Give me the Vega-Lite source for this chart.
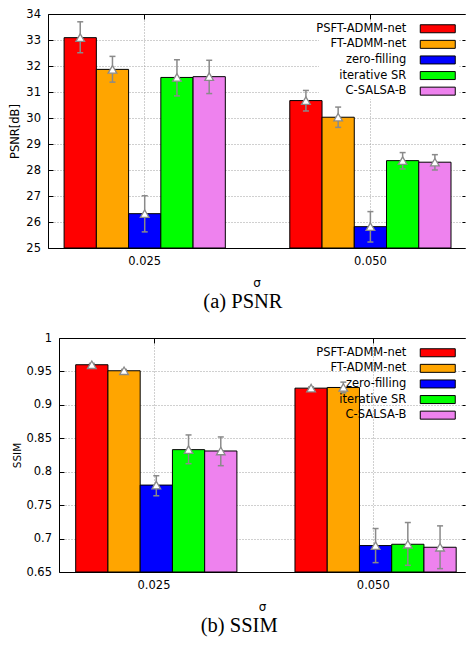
{
  "$schema": "https://vega.github.io/schema/vega-lite/v6.json",
  "padding": {"left": 9, "top": 8, "right": 0, "bottom": 0},
  "background": "white",
  "config": {
    "view": {"stroke": null},
    "font": "DejaVu Sans",
    "axis": {
      "labelFont": "DejaVu Sans", "labelFontSize": 11.5, "labelColor": "black",
      "titleFont": "DejaVu Sans", "titleFontWeight": "normal", "titleColor": "black",
      "domainColor": "black", "domainWidth": 1, "tickColor": "black", "tickWidth": 1,
      "gridColor": "#a0a0a0", "gridDash": [1, 2], "gridWidth": 1, "minExtent": 0
    },
    "legend": {
      "labelFont": "DejaVu Sans", "labelFontSize": 11.5, "labelColor": "black",
      "labelAlign": "right", "labelOffset": -37.2, "symbolOffset": 112,
      "symbolType": "M-3.5,-0.8H3.5V0.8H-3.5Z", "symbolSize": 100,
      "symbolStrokeColor": "black", "symbolStrokeWidth": 1, "symbolOpacity": 1,
      "rowPadding": 2.6, "padding": 1, "strokeColor": null
    }
  },
  "datasets": {
    "psnr": [
      {"sigma": "0.025", "method": "PSFT-ADMM-net", "value": 33.09, "lo": 32.51, "hi": 33.70},
      {"sigma": "0.025", "method": "FT-ADMM-net", "value": 31.87, "lo": 31.38, "hi": 32.37},
      {"sigma": "0.025", "method": "zero-filling", "value": 26.32, "lo": 25.62, "hi": 27.01},
      {"sigma": "0.025", "method": "iterative SR", "value": 31.56, "lo": 30.85, "hi": 32.24},
      {"sigma": "0.025", "method": "C-SALSA-B", "value": 31.59, "lo": 30.94, "hi": 32.22},
      {"sigma": "0.050", "method": "PSFT-ADMM-net", "value": 30.67, "lo": 30.27, "hi": 31.06},
      {"sigma": "0.050", "method": "FT-ADMM-net", "value": 30.03, "lo": 29.64, "hi": 30.42},
      {"sigma": "0.050", "method": "zero-filling", "value": 25.82, "lo": 25.23, "hi": 26.40},
      {"sigma": "0.050", "method": "iterative SR", "value": 28.36, "lo": 28.04, "hi": 28.67},
      {"sigma": "0.050", "method": "C-SALSA-B", "value": 28.30, "lo": 28.00, "hi": 28.59}
    ],
    "ssim": [
      {"sigma": "0.025", "method": "PSFT-ADMM-net", "value": 0.960, "lo": 0.958, "hi": 0.962},
      {"sigma": "0.025", "method": "FT-ADMM-net", "value": 0.951, "lo": 0.949, "hi": 0.953},
      {"sigma": "0.025", "method": "zero-filling", "value": 0.780, "lo": 0.764, "hi": 0.794},
      {"sigma": "0.025", "method": "iterative SR", "value": 0.833, "lo": 0.812, "hi": 0.855},
      {"sigma": "0.025", "method": "C-SALSA-B", "value": 0.831, "lo": 0.809, "hi": 0.852},
      {"sigma": "0.050", "method": "PSFT-ADMM-net", "value": 0.925, "lo": 0.923, "hi": 0.927},
      {"sigma": "0.050", "method": "FT-ADMM-net", "value": 0.926, "lo": 0.918, "hi": 0.934},
      {"sigma": "0.050", "method": "zero-filling", "value": 0.6895, "lo": 0.664, "hi": 0.715},
      {"sigma": "0.050", "method": "iterative SR", "value": 0.6915, "lo": 0.660, "hi": 0.724},
      {"sigma": "0.050", "method": "C-SALSA-B", "value": 0.687, "lo": 0.655, "hi": 0.719}
    ]
  },
  "columns": 1,
  "spacing": 19,
  "resolve": {"scale": {"color": "independent"}, "legend": {"color": "independent"}},
  "concat": [
    {
      "width": 406, "height": 234,
      "title": {"text": "(a) PSNR", "orient": "bottom", "anchor": "middle", "frame": "bounds", "font": "Liberation Serif", "fontSize": 20.5, "fontWeight": "normal", "color": "black", "offset": 4},
      "data": {"name": "psnr"},
      "encoding": {
        "x": {"field": "sigma", "type": "nominal", "scale": {"range": [-11, 406], "paddingInner": 0.2857, "paddingOuter": 0.0667, "align": 0.535}, "axis": null},
        "xOffset": {"field": "method", "type": "nominal", "sort": ["PSFT-ADMM-net", "FT-ADMM-net", "zero-filling", "iterative SR", "C-SALSA-B"], "scale": {"paddingInner": 0, "paddingOuter": 0}}
      },
      "layer": [
        {
          "mark": {"type": "bar", "stroke": "black", "strokeWidth": 1, "opacity": 1},
          "encoding": {
            "x": {"field": "sigma", "type": "nominal", "scale": {"range": [-11, 406], "paddingInner": 0.2857, "paddingOuter": 0.0667, "align": 0.535},
              "axis": {"orient": "bottom", "title": "σ", "titleFontSize": 12, "titlePadding": 10.5, "labelAngle": 0, "tickSize": -5, "labelPadding": 12, "grid": true, "bandPosition": 0.5}},
            "y": {"field": "value", "type": "quantitative", "scale": {"domain": [25, 34], "zero": false, "nice": false},
              "axis": {"orient": "left", "offset": 11, "title": "PSNR[dB]", "titleFontSize": 11.5, "titlePadding": 5, "values": [25, 26, 27, 28, 29, 30, 31, 32, 33, 34], "tickSize": -5, "labelPadding": 12.5, "grid": true}},
            "y2": {"datum": 25},
            "color": {"field": "method", "type": "nominal",
              "scale": {"domain": ["PSFT-ADMM-net", "FT-ADMM-net", "zero-filling", "iterative SR", "C-SALSA-B"], "range": ["#ff0000", "#ffa500", "#0000ff", "#00ff00", "#ee82ee"]},
              "legend": {"title": null, "orient": "none", "legendX": 260, "legendY": 8, "direction": "vertical", "fillColor": "white"}}
          }
        },
        {
          "mark": {"type": "rule", "color": "#8a8a8a", "strokeWidth": 1.5},
          "encoding": {
            "x": {"field": "sigma", "type": "nominal", "scale": {"range": [-11, 406], "paddingInner": 0.2857, "paddingOuter": 0.0667, "align": 0.535},
              "axis": {"orient": "top", "title": null, "labels": false, "tickSize": -5, "grid": false, "bandPosition": 0.5}},
            "y": {"field": "lo", "type": "quantitative", "scale": {"domain": [25, 34], "zero": false, "nice": false},
              "axis": {"orient": "right", "title": null, "labels": false, "domain": false, "values": [25, 26, 27, 28, 29, 30, 31, 32, 33, 34], "tickSize": -3, "grid": false, "minExtent": 0, "maxExtent": 0}},
            "y2": {"field": "hi"}
          }
        },
        {
          "mark": {"type": "tick", "color": "#8a8a8a", "thickness": 1.5, "size": 6, "opacity": 1},
          "encoding": {"y": {"field": "lo", "type": "quantitative", "scale": {"domain": [25, 34], "zero": false, "nice": false}, "axis": null}}
        },
        {
          "mark": {"type": "tick", "color": "#8a8a8a", "thickness": 1.5, "size": 6, "opacity": 1},
          "encoding": {"y": {"field": "hi", "type": "quantitative", "scale": {"domain": [25, 34], "zero": false, "nice": false}, "axis": null}}
        },
        {
          "mark": {"type": "point", "shape": "triangle-up", "filled": true, "fill": "white", "stroke": "#8a8a8a", "strokeWidth": 1.3, "size": 75, "opacity": 1},
          "encoding": {"y": {"field": "value", "type": "quantitative", "scale": {"domain": [25, 34], "zero": false, "nice": false}, "axis": null}}
        }
      ],
      "resolve": {"axis": {"x": "independent", "y": "independent"}}
    },
    {
      "width": 406, "height": 234,
      "title": {"text": "(b) SSIM", "orient": "bottom", "anchor": "middle", "frame": "bounds", "font": "Liberation Serif", "fontSize": 20.5, "fontWeight": "normal", "color": "black", "offset": 4},
      "data": {"name": "ssim"},
      "encoding": {
        "x": {"field": "sigma", "type": "nominal", "scale": {"paddingInner": 0.2857, "paddingOuter": 0.0686, "align": 0.555}, "axis": null},
        "xOffset": {"field": "method", "type": "nominal", "sort": ["PSFT-ADMM-net", "FT-ADMM-net", "zero-filling", "iterative SR", "C-SALSA-B"], "scale": {"paddingInner": 0, "paddingOuter": 0}}
      },
      "layer": [
        {
          "mark": {"type": "bar", "stroke": "black", "strokeWidth": 1, "opacity": 1},
          "encoding": {
            "x": {"field": "sigma", "type": "nominal", "scale": {"paddingInner": 0.2857, "paddingOuter": 0.0686, "align": 0.555},
              "axis": {"orient": "bottom", "title": "σ", "titleFontSize": 12, "titlePadding": 10.5, "labelAngle": 0, "tickSize": -5, "labelPadding": 12, "grid": true, "bandPosition": 0.5}},
            "y": {"field": "value", "type": "quantitative", "scale": {"domain": [0.65, 1], "zero": false, "nice": false},
              "axis": {"orient": "left", "title": "SSIM", "titleFontSize": 10.5, "titlePadding": 3, "format": "~g", "values": [0.65, 0.7, 0.75, 0.8, 0.85, 0.9, 0.95, 1], "tickSize": -5, "labelPadding": 12.5, "grid": true}},
            "y2": {"datum": 0.65},
            "color": {"field": "method", "type": "nominal",
              "scale": {"domain": ["PSFT-ADMM-net", "FT-ADMM-net", "zero-filling", "iterative SR", "C-SALSA-B"], "range": ["#ff0000", "#ffa500", "#0000ff", "#00ff00", "#ee82ee"]},
              "legend": {"title": null, "orient": "none", "legendX": 260, "legendY": 8, "direction": "vertical"}}
          }
        },
        {
          "mark": {"type": "rule", "color": "#8a8a8a", "strokeWidth": 1.5},
          "encoding": {
            "x": {"field": "sigma", "type": "nominal", "scale": {"paddingInner": 0.2857, "paddingOuter": 0.0686, "align": 0.555},
              "axis": {"orient": "top", "title": null, "labels": false, "tickSize": -5, "grid": false, "bandPosition": 0.5}},
            "y": {"field": "lo", "type": "quantitative", "scale": {"domain": [0.65, 1], "zero": false, "nice": false},
              "axis": {"orient": "right", "title": null, "labels": false, "domain": false, "values": [0.65, 0.7, 0.75, 0.8, 0.85, 0.9, 0.95, 1], "tickSize": -3, "grid": false, "minExtent": 0, "maxExtent": 0}},
            "y2": {"field": "hi"}
          }
        },
        {
          "mark": {"type": "tick", "color": "#8a8a8a", "thickness": 1.5, "size": 6, "opacity": 1},
          "encoding": {"y": {"field": "lo", "type": "quantitative", "scale": {"domain": [0.65, 1], "zero": false, "nice": false}, "axis": null}}
        },
        {
          "mark": {"type": "tick", "color": "#8a8a8a", "thickness": 1.5, "size": 6, "opacity": 1},
          "encoding": {"y": {"field": "hi", "type": "quantitative", "scale": {"domain": [0.65, 1], "zero": false, "nice": false}, "axis": null}}
        },
        {
          "mark": {"type": "point", "shape": "triangle-up", "filled": true, "fill": "white", "stroke": "#8a8a8a", "strokeWidth": 1.3, "size": 75, "opacity": 1},
          "encoding": {"y": {"field": "value", "type": "quantitative", "scale": {"domain": [0.65, 1], "zero": false, "nice": false}, "axis": null}}
        }
      ],
      "resolve": {"axis": {"x": "independent", "y": "independent"}}
    }
  ]
}
